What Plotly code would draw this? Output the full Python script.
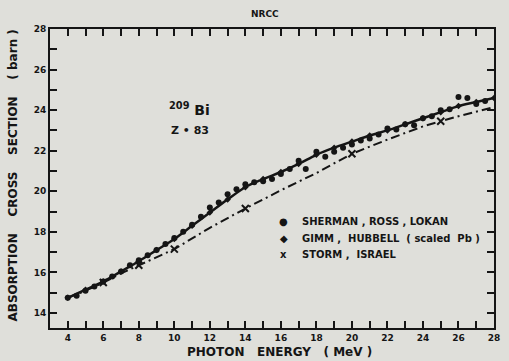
import plotly.graph_objects as go

# Sherman, Ross, Lokan (measured points)
sherman_e = [4.0, 4.5, 5.0, 5.5, 6.0, 6.5, 7.0, 7.5, 8.0, 8.5, 9.0, 9.5, 10.0, 10.5,
             11.0, 11.5, 12.0, 12.5, 13.0, 13.5, 14.0, 14.5, 15.0, 15.5, 16.0, 16.5,
             17.0, 17.4, 18.0, 18.5, 19.0, 19.5, 20.0, 20.5, 21.0, 21.5, 22.0, 22.5,
             23.0, 23.5, 24.0, 24.5, 25.0, 25.5, 26.0, 26.5, 27.0, 27.5]
sherman_s = [14.75, 14.85, 15.1, 15.3, 15.55, 15.8, 16.05, 16.35, 16.6, 16.85, 17.1, 17.4,
             17.7, 18.0, 18.35, 18.75, 19.2, 19.45, 19.85, 20.1, 20.35, 20.45, 20.5, 20.6,
             20.85, 21.1, 21.5, 21.1, 21.95, 21.7, 21.95, 22.15, 22.3, 22.5, 22.6, 22.8,
             23.1, 23.05, 23.3, 23.25, 23.6, 23.7, 24.0, 24.05, 24.65, 24.6, 24.3, 24.45]

# Gimm, Hubbell (scaled Pb)
gimm_e = [4, 5, 6, 7, 8, 9, 10, 11, 12, 13, 14, 15, 16, 17, 18, 19, 20, 21, 22, 23,
          24, 25, 26, 27, 28]
gimm_s = [14.75, 15.15, 15.55, 16.05, 16.55, 17.1, 17.65, 18.3, 18.95, 19.6, 20.2, 20.6,
          20.95, 21.35, 21.8, 22.15, 22.45, 22.75, 23.0, 23.3, 23.6, 23.9, 24.2, 24.4, 24.6]

# Storm, Israel
storm_e = [4, 5, 6, 7, 8, 9, 10, 12, 14, 16, 18, 20, 22, 24, 26, 28]
storm_s = [14.75, 15.1, 15.5, 15.95, 16.35, 16.75, 17.15, 18.2, 19.15, 20.05, 20.9,
           21.85, 22.55, 23.2, 23.7, 24.15]
storm_mark_e = [6, 8, 10, 14, 20, 25]
storm_mark_s = [15.5, 16.35, 17.15, 19.15, 21.85, 23.45]

legend_labels = ["SHERMAN , ROSS , LOKAN", "GIMM ,  HUBBELL  ( scaled  Pb )",
                 "STORM ,  ISRAEL"]
legend_symbols = ["\u25cf", "\u25c6", "x"]

INK = "#151515"
BG = "#dfdfda"
FONT = "DejaVu Sans"

W, H = 509, 361
L, R, T, B = 50, 9, 29, 33


def px(x, y):
    # pixel position -> paper coordinates
    return (x - L) / (W - L - R), (H - B - y) / (H - T - B)


fig = go.Figure()
fig.add_trace(go.Scatter(x=storm_e, y=storm_s, mode="lines",
                         line=dict(color=INK, width=2, dash="9px,4px,2px,4px")))
fig.add_trace(go.Scatter(x=storm_mark_e, y=storm_mark_s, mode="markers",
                         marker=dict(symbol="x-thin", size=7,
                                     line=dict(color=INK, width=2))))
fig.add_trace(go.Scatter(x=gimm_e, y=gimm_s, mode="lines+markers",
                         line=dict(color=INK, width=2.5, shape="spline"),
                         marker=dict(symbol="diamond", size=5, color=INK)))
fig.add_trace(go.Scatter(x=sherman_e, y=sherman_s, mode="markers",
                         marker=dict(symbol="circle", size=6, color=INK)))
# invisible copy tied to the top/right axes so their ticks are drawn
fig.add_trace(go.Scatter(x=sherman_e, y=sherman_s, mode="markers", xaxis="x2",
                         yaxis="y2", marker=dict(opacity=0), hoverinfo="skip"))

ticks = dict(ticks="inside", ticklen=7, tickwidth=2, tickcolor=INK,
             showgrid=False, zeroline=False,
             minor=dict(ticks="inside", ticklen=7, tickwidth=2, tickcolor=INK,
                        dtick=1, showgrid=False))
axis = dict(ticks, showline=True, linewidth=2, linecolor=INK, mirror=True,
            tickfont=dict(family=FONT, size=9, color=INK, weight="bold"))

fig.update_layout(
    xaxis=dict(axis, range=[3, 28], tick0=4, dtick=2),
    yaxis=dict(axis, range=[13.26, 28], tick0=14, dtick=2),
    xaxis2=dict(ticks, overlaying="x", side="top", anchor="y", range=[3, 28],
                tick0=4, dtick=2, showticklabels=False),
    yaxis2=dict(ticks, overlaying="y", side="right", anchor="x", range=[13.26, 28],
                tick0=14, dtick=2, showticklabels=False),
)

annotations = []
for i, (sym, lab) in enumerate(zip(legend_symbols, legend_labels)):
    sx, sy = px(287, 221 + 17 * i)
    tx, _ = px(303, 0)
    annotations.append(dict(x=sx, y=sy, text=sym, xanchor="center"))
    annotations.append(dict(x=tx, y=sy, text=lab, xanchor="left"))
for a in annotations:
    a.update(xref="paper", yref="paper", showarrow=False, yanchor="middle",
             font=dict(family=FONT, size=10, color=INK, weight="bold"))

bx, by = px(169, 109)
zx, zy = px(171, 130)
tx, ty = px(268, 14)
xx, xy = px(283, 352)
yx, yy = px(12, 176)
extra = [
    dict(x=bx, y=by, text="<sup>209</sup> Bi", xanchor="left",
         font=dict(family=FONT, size=14, color=INK, weight="bold")),
    dict(x=zx, y=zy, text="Z \u2022 83", xanchor="left",
         font=dict(family=FONT, size=11, color=INK, weight="bold")),
    dict(x=tx, y=ty, text="NRCC",
         font=dict(family=FONT, size=9, color=INK, weight="bold")),
    dict(x=xx, y=xy, text="PHOTON   ENERGY   ( MeV )",
         font=dict(family=FONT, size=12, color=INK, weight="bold")),
    dict(x=yx, y=yy, text="ABSORPTION    CROSS    SECTION    ( barn )", textangle=-90,
         xanchor="center",
         font=dict(family=FONT, size=12, color=INK, weight="bold")),
]
for a in extra:
    a.update(xref="paper", yref="paper", showarrow=False, yanchor="middle")
annotations += extra

fig.update_layout(width=W, height=H, margin=dict(l=L, r=R, t=T, b=B),
                  paper_bgcolor=BG, plot_bgcolor=BG, showlegend=False,
                  annotations=annotations)

fig.write_html("out.html", config={"displayModeBar": False},
               post_script="document.body.style.margin='0px';")
